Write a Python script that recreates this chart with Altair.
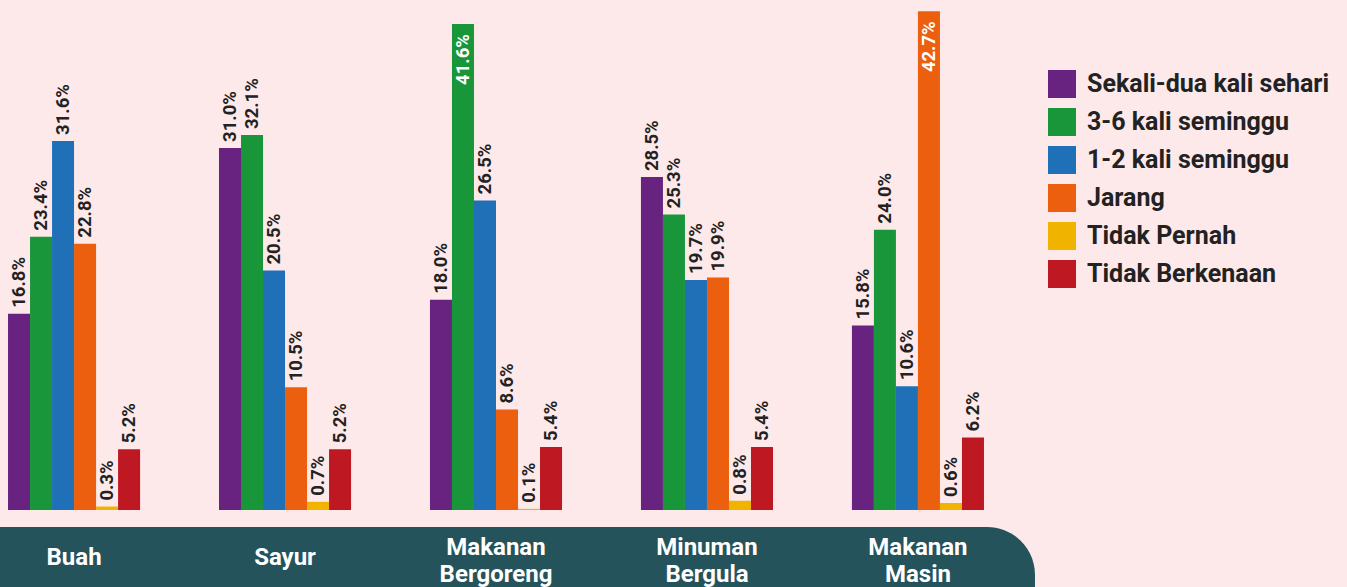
import altair as alt
import pandas as pd

categories = ["Buah", "Sayur", "Makanan Bergoreng", "Minuman Bergula", "Makanan Masin"]
band_labels = ["Buah", "Sayur", "Makanan\nBergoreng", "Minuman\nBergula", "Makanan\nMasin"]
series = ["Sekali-dua kali sehari", "3-6 kali seminggu", "1-2 kali seminggu",
          "Jarang", "Tidak Pernah", "Tidak Berkenaan"]
colors = ["#68227f", "#1a963a", "#2070b8", "#eb5f0f", "#f0b400", "#be1823"]

sekali = [16.8, 31.0, 18.0, 28.5, 15.8]
tiga_enam = [23.4, 32.1, 41.6, 25.3, 24.0]
satu_dua = [31.6, 20.5, 26.5, 19.7, 10.6]
jarang = [22.8, 10.5, 8.6, 19.9, 42.7]
tidak_pernah = [0.3, 0.7, 0.1, 0.8, 0.6]
tidak_berkenaan = [5.2, 5.2, 5.4, 5.4, 6.2]

values = [sekali, tiga_enam, satu_dua, jarang, tidak_pernah, tidak_berkenaan]
rows = []
for s, vals in zip(series, values):
    for c, v in zip(categories, vals):
        rows.append({"cat": c, "series": s, "value": v, "label": f"{v:.1f}%"})
df = pd.DataFrame(rows)
lab_df = pd.DataFrame({"cat": categories, "lab": band_labels,
                       "nlines": [l.count("\n") + 1 for l in band_labels]})

x = alt.X("cat:N", sort=categories, axis=None,
          scale=alt.Scale(paddingInner=0.374, paddingOuter=0.038))
xo = alt.XOffset("series:N", sort=series, scale=alt.Scale(paddingInner=0, paddingOuter=0))
yscale = alt.Scale(domain=[-6.59, 43.66], nice=False, zero=False)

base = alt.Chart(df)

bars = base.mark_bar().encode(
    x=x, xOffset=xo,
    y=alt.Y("value:Q", scale=yscale, axis=None),
    y2=alt.datum(0),
    color=alt.Color("series:N", sort=series,
                    scale=alt.Scale(domain=series, range=colors),
                    legend=alt.Legend(title=None, orient="none", legendX=1048, legendY=70,
                                      symbolType="square", symbolSize=784,
                                      symbolStrokeWidth=0, symbolOpacity=1,
                                      labelFont="Roboto", labelFontSize=25,
                                      labelFontWeight="bold", labelColor="#222222",
                                      labelOffset=11, rowPadding=10, labelLimit=400)),
)

text_out = base.transform_filter("datum.value < 40").mark_text(
    angle=270, align="left", baseline="middle", dx=6,
    font="Roboto", fontSize=18.5, fontWeight="bold", color="#222222"
).encode(x=x, xOffset=xo, y=alt.Y("value:Q", scale=yscale), text="label:N")

text_in = base.transform_filter("datum.value >= 40").mark_text(
    angle=270, align="right", baseline="middle", dx=-10,
    font="Roboto", fontSize=18.5, fontWeight="bold", color="white"
).encode(x=x, xOffset=xo, y=alt.Y("value:Q", scale=yscale), text="label:N")

band = alt.Chart(pd.DataFrame({"k": [0]})).mark_bar(
    color="#24535c", cornerRadiusTopRight=48, cornerRadiusBottomRight=48
).encode(x=alt.value(-20), x2=alt.value(1035), y=alt.value(527), y2=alt.value(650))

band_text_1 = alt.Chart(lab_df).transform_filter("datum.nlines == 1").mark_text(
    baseline="middle", align="center",
    font="Roboto", fontSize=24, fontWeight="bold", color="white"
).encode(x=alt.X("cat:N", sort=categories), y=alt.value(558), text="lab:N")

band_text_2 = alt.Chart(lab_df).transform_filter("datum.nlines == 2").mark_text(
    lineBreak="\n", lineHeight=27, baseline="middle", align="center",
    font="Roboto", fontSize=24, fontWeight="bold", color="white"
).encode(x=alt.X("cat:N", sort=categories), y=alt.value(548), text="lab:N")

chart = alt.layer(bars, text_out, text_in, band, band_text_1, band_text_2).properties(
    width=992, height=587,
    autosize=alt.AutoSizeParams(type="none"),
    padding={"left": 0, "top": 0, "right": 355, "bottom": 0},
    background="#fde9ea",
).configure_view(stroke=None)

chart.save("out.html", embed_options={"renderer": "svg", "actions": False})
